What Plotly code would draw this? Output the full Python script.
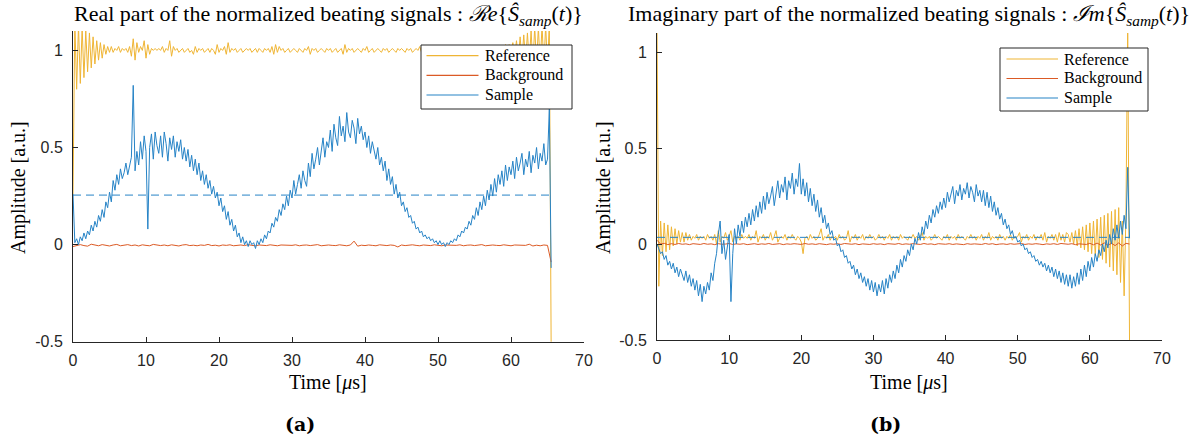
import numpy as np
import plotly.graph_objects as go

T_END = 65.5  # last sample time [us]

# ---------------- (a) real part ----------------
re_reference = [
    0.26, 1.15, 0.80, 1.13, 0.83, 1.12, 0.86, 1.10, 0.89, 1.09, 0.91, 1.07, 0.93, 1.05, 0.95, 1.04, 0.96, 1.03, 0.98, 1.02,
    0.99, 1.02, 0.99, 1.01, 1.00, 1.02, 0.99, 1.01, 1.00, 1.01, 0.99, 1.02, 0.97, 1.06, 0.95, 1.04, 0.99, 1.02, 1.00, 1.05,
    0.96, 1.03, 0.98, 1.01, 1.00, 1.01, 1.00, 1.01, 1.00, 1.02, 0.99, 1.01, 1.00, 1.05, 0.97, 1.02, 1.00, 1.01, 0.99, 1.00,
    1.01, 0.99, 1.00, 1.01, 0.99, 1.00, 0.98, 1.02, 0.99, 1.01, 1.00, 1.01, 0.99, 1.00, 1.01, 0.99, 1.01, 1.00, 0.98, 1.03,
    0.99, 1.01, 1.00, 1.02, 0.98, 1.04, 0.99, 1.01, 1.00, 1.01, 0.99, 1.00, 1.01, 0.99, 1.00, 1.01, 1.00, 1.01, 0.99, 1.00,
    1.01, 0.99, 1.01, 1.00, 0.99, 1.01, 1.00, 1.01, 0.99, 1.02, 0.98, 1.03, 0.99, 1.02, 1.00, 1.01, 0.99, 1.00, 1.01, 0.99,
    1.00, 1.01, 1.00, 0.99, 1.01, 1.00, 0.99, 1.01, 1.00, 1.02, 0.98, 1.01, 1.00, 1.01, 0.99, 1.00, 1.01, 1.00, 0.99, 1.01,
    1.00, 1.01, 0.99, 1.00, 1.01, 0.99, 1.00, 1.01, 0.98, 1.03, 0.99, 1.01, 1.00, 1.01, 0.99, 1.00, 1.01, 1.00, 0.99, 1.01,
    1.00, 1.02, 0.99, 1.00, 1.01, 0.99, 1.00, 1.01, 1.00, 0.99, 1.01, 1.00, 1.01, 0.99, 1.00, 1.01, 1.00, 0.99, 1.01, 1.00,
    1.01, 1.00, 0.99, 1.01, 1.00, 1.01, 0.99, 1.00, 1.01, 1.00, 1.02, 0.99, 1.01, 1.00, 0.99, 1.01, 1.00, 1.01, 0.99, 1.00,
    1.01, 1.00, 0.99, 1.01, 1.00, 1.01, 0.99, 1.00, 1.01, 1.00, 0.99, 1.01, 1.00, 1.01, 0.99, 1.02, 1.00, 1.01, 0.99, 1.00,
    1.01, 1.00, 0.99, 1.01, 1.00, 1.01, 0.99, 1.00, 1.01, 1.00, 0.99, 1.01, 1.00, 1.02, 0.98, 1.02, 0.99, 1.03, 0.98, 1.03,
    0.98, 1.04, 0.97, 1.05, 0.96, 1.07, 0.95, 1.08, 0.94, 1.09, 0.94, 1.10, 0.93, 1.12, 0.93, 1.12, 0.92, 1.13, 0.92, 1.13,
    0.91, 1.14, -0.52,
]

re_background = [
    -0.010, -0.005, 0.000, -0.005, -0.008, 0.002, -0.004, -0.006, 0.000, -0.003, -0.007, -0.002, 0.001, -0.006, -0.004, 0.000,
    -0.005, -0.002, -0.007, -0.001, -0.004, -0.006, 0.001, -0.003, -0.005, -0.002, -0.006, -0.001, -0.004, -0.007, -0.002, 0.000,
    -0.005, -0.003, -0.006, -0.002, -0.004, 0.001, -0.005, -0.003, -0.007, -0.002, -0.004, -0.001, -0.006, -0.003, -0.002, -0.005,
    0.000, -0.004, -0.006, -0.002, -0.003, -0.005, -0.001, -0.004, -0.006, -0.002, -0.003, -0.005, -0.004, -0.001, -0.006, -0.003,
    -0.002, -0.005, -0.004, 0.000, -0.006, -0.003, -0.002, -0.004, -0.005, -0.001, -0.004, -0.006, -0.002, 0.018, -0.008, -0.003,
    -0.005, -0.002, -0.004, -0.006, -0.001, -0.003, -0.005, -0.002, -0.004, -0.012, -0.002, -0.005, -0.003, -0.001, -0.004, -0.006,
    -0.002, -0.003, -0.005, -0.001, -0.004, -0.006, -0.002, -0.003, -0.005, -0.004, -0.001, -0.006, -0.003, -0.002, -0.005, -0.004,
    0.000, -0.006, -0.003, -0.002, -0.004, -0.005, -0.001, -0.004, -0.006, -0.002, -0.003, -0.005, -0.004, 0.002, -0.007, -0.003,
    -0.006, -0.002, -0.004, -0.090,
]

re_sample = [
    0.26, 0.01, 0.03, 0.00, 0.04, 0.02, 0.06, 0.03, 0.07, 0.05, 0.10, 0.07, 0.12, 0.09, 0.15, 0.12, 0.18, 0.14, 0.22, 0.19,
    0.27, 0.22, 0.33, 0.28, 0.36, 0.31, 0.39, 0.34, 0.37, 0.42, 0.36, 0.40, 0.45, 0.82, 0.38, 0.48, 0.41, 0.53, 0.44, 0.56,
    0.48, 0.08, 0.50, 0.57, 0.44, 0.58, 0.51, 0.47, 0.56, 0.45, 0.58, 0.52, 0.43, 0.55, 0.49, 0.56, 0.45, 0.53, 0.48, 0.54,
    0.44, 0.50, 0.43, 0.49, 0.40, 0.46, 0.38, 0.44, 0.36, 0.42, 0.33, 0.38, 0.31, 0.36, 0.29, 0.33, 0.26, 0.30, 0.24, 0.27,
    0.20, 0.24, 0.17, 0.20, 0.13, 0.17, 0.10, 0.13, 0.07, 0.10, 0.04, 0.06, 0.01, 0.04, 0.00, 0.02, -0.01, 0.02, 0.00, 0.01,
    -0.02, 0.02, 0.00, 0.03, 0.01, 0.05, 0.03, 0.07, 0.06, 0.11, 0.09, 0.14, 0.12, 0.18, 0.15, 0.21, 0.18, 0.25, 0.20, 0.28,
    0.24, 0.33, 0.26, 0.31, 0.36, 0.29, 0.38, 0.33, 0.30, 0.42, 0.35, 0.47, 0.39, 0.44, 0.50, 0.41, 0.48, 0.55, 0.45, 0.53,
    0.50, 0.59, 0.48, 0.62, 0.55, 0.51, 0.66, 0.56, 0.61, 0.53, 0.68, 0.58, 0.55, 0.64, 0.60, 0.52, 0.65, 0.57, 0.61, 0.54,
    0.58, 0.50, 0.56, 0.47, 0.53, 0.49, 0.44, 0.50, 0.41, 0.45, 0.38, 0.43, 0.33, 0.39, 0.31, 0.35, 0.26, 0.31, 0.24, 0.27,
    0.20, 0.22, 0.17, 0.19, 0.14, 0.15, 0.11, 0.12, 0.08, 0.09, 0.06, 0.07, 0.04, 0.05, 0.03, 0.04, 0.02, 0.03, 0.01, 0.02,
    0.00, 0.02, 0.00, 0.01, -0.01, 0.01, 0.00, 0.02, 0.01, 0.03, 0.02, 0.05, 0.04, 0.07, 0.06, 0.09, 0.08, 0.12, 0.10, 0.15,
    0.13, 0.19, 0.15, 0.22, 0.18, 0.25, 0.20, 0.28, 0.23, 0.31, 0.25, 0.34, 0.27, 0.36, 0.31, 0.38, 0.30, 0.41, 0.33, 0.40,
    0.36, 0.43, 0.34, 0.45, 0.38, 0.42, 0.47, 0.36, 0.44, 0.40, 0.48, 0.37, 0.46, 0.42, 0.50, 0.39, 0.47, 0.43, 0.52, 0.41,
    0.44, 0.70, -0.12,
]
re_sample_mean = 0.255

# ---------------- (b) imaginary part ----------------
im_reference = [
    1.15, -0.22, 0.12, -0.06, 0.11, -0.04, 0.10, -0.03, 0.09, -0.01, 0.08, 0.00, 0.07, 0.01, 0.06, 0.01, 0.06, 0.02, 0.05, 0.02,
    0.04, 0.03, 0.05, 0.02, 0.04, 0.03, 0.04, 0.02, 0.05, 0.03, 0.04, 0.02, 0.05, 0.00, 0.07, 0.01, 0.04, 0.03, 0.06, 0.02,
    0.04, 0.07, 0.01, 0.04, 0.03, 0.04, 0.02, 0.05, 0.03, 0.04,
    0.03, 0.05, 0.02, 0.04, 0.03, 0.07, 0.01, 0.04, 0.03, 0.05,
    0.02, 0.04, 0.03, 0.06, 0.02, 0.04, 0.07, 0.01, 0.03, 0.04,
    0.03, 0.05, 0.02, 0.04, 0.03, 0.05, 0.03, 0.02, 0.04, 0.03,
    0.01, -0.05, 0.03, 0.04, 0.02, 0.05, 0.03, 0.04, 0.02, 0.03,
    0.05, 0.08, 0.02, 0.04, 0.03, 0.05, 0.02, 0.04, 0.03, 0.04,
    0.02, 0.05, 0.03, 0.04, 0.02, 0.03, 0.07, 0.01, 0.04, 0.03,
    0.05, 0.02, 0.04, 0.03, 0.05, 0.02, 0.04, 0.03, 0.05, 0.03,
    0.04, 0.02, 0.03, 0.05, 0.03, 0.04, 0.02, 0.04, 0.03, 0.05,
    0.02, 0.04, 0.03, 0.04, 0.02, 0.05, 0.03, 0.04, 0.03, 0.02,
    0.04, 0.03, 0.05, 0.03, 0.04, 0.02, 0.04, 0.06, 0.02, 0.04,
    0.03, 0.04, 0.02, 0.03, 0.05, 0.03, 0.04, 0.03, 0.02, 0.04,
    0.03, 0.05, 0.02, 0.04, 0.03, 0.04, 0.02, 0.05, 0.03, 0.04,
    0.03, 0.02, 0.04, 0.03, 0.05, 0.03, 0.04, 0.02, 0.04, 0.03,
    0.05, 0.02, 0.04, 0.03, 0.06, 0.02, 0.04, 0.03, 0.04, 0.02,
    0.05, 0.03, 0.04, 0.02, 0.04, 0.03, 0.05, 0.02, 0.04, 0.03,
    0.04, 0.06, 0.01, 0.04, 0.03, 0.05, 0.02, 0.04, 0.03, 0.05,
    0.02, 0.04, 0.03, 0.05, 0.02, 0.06, 0.01, 0.04, 0.03, 0.05,
    0.02, 0.05, 0.01, 0.06, 0.02, 0.05, 0.01, 0.06,
    0.05, 0.01, 0.06, 0.00, 0.07, -0.01, 0.08, -0.02, 0.09, -0.03, 0.10, -0.04, 0.11, -0.05, 0.12, -0.06, 0.13, -0.07, 0.14, -0.08,
    0.15, -0.10, 0.16, -0.12, 0.17, -0.14, 0.18, -0.16, 0.19, -0.20, 0.12, -0.27, 0.15, 1.15, -0.52,
]

im_background = [
    0.020, 0.000, 0.004, -0.003, 0.002, -0.002, 0.003, -0.001, 0.001, -0.003, 0.002, 0.000, -0.002, 0.003, -0.001, 0.001,
    -0.003, 0.002, -0.001, 0.000, 0.003, -0.002, 0.001, -0.001, 0.002, -0.003, 0.000, 0.002, -0.002, 0.001, -0.001, 0.003,
    -0.002, 0.000, 0.002, -0.003, 0.001, -0.001, 0.002, 0.000, -0.002, 0.003, -0.001, 0.001, -0.002, 0.002, 0.000, -0.003,
    0.001, -0.001, 0.002, -0.002, 0.003, 0.000, -0.001, 0.002, -0.003, 0.001, 0.000, -0.002, 0.002, -0.001, 0.001, -0.003,
    0.002, 0.000, -0.001, 0.003, -0.002, 0.001, -0.001, 0.002, 0.000, -0.002, 0.003, -0.001, 0.001, -0.003, 0.002, 0.000,
    -0.001, 0.002, -0.002, 0.001, 0.000, -0.003, 0.002, -0.001, 0.001, 0.000, -0.002, 0.003, -0.001, 0.002, -0.003, 0.000,
    0.001, -0.002, 0.002, -0.001, 0.000, 0.003, -0.002, 0.001, -0.001, 0.002, 0.000, -0.003, 0.001, -0.001, 0.002, -0.002,
    0.003, 0.000, -0.001, 0.002, -0.003, 0.001, 0.000, -0.002, 0.004, -0.004, 0.005, -0.005, 0.006, -0.006, 0.004, -0.008,
    0.006, -0.010, 0.004, 0.000,
]

im_sample = [
    0.00, -0.03, -0.05, -0.04, -0.08, -0.06, -0.11, -0.09, -0.13, -0.10, -0.15, -0.12, -0.17, -0.13, -0.16, -0.19, -0.14, -0.20, -0.16, -0.22,
    -0.18, -0.24, -0.19, -0.27, -0.21, -0.30, -0.22, -0.26, -0.20, -0.24, -0.15, -0.19, -0.10, -0.05, 0.05, 0.12, -0.05, 0.02, -0.08, -0.02,
    0.05, -0.30, -0.05, 0.08, 0.00, 0.10, 0.04, 0.12, 0.06, 0.14, 0.09, 0.16, 0.10, 0.18, 0.12, 0.20, 0.14, 0.22, 0.16, 0.25,
    0.18, 0.27, 0.21, 0.25, 0.30, 0.20, 0.28, 0.33, 0.24, 0.31, 0.27, 0.35, 0.23, 0.33, 0.29, 0.37, 0.26, 0.34, 0.30, 0.42,
    0.26, 0.34, 0.25, 0.32, 0.22, 0.29, 0.20, 0.26, 0.17, 0.23, 0.14, 0.19, 0.11, 0.15, 0.08, 0.11, 0.05, 0.07, 0.02, 0.03,
    -0.01, 0.00, -0.04, -0.03, -0.07, -0.06, -0.10, -0.09, -0.13, -0.11, -0.16, -0.13, -0.18, -0.15, -0.20, -0.17, -0.22, -0.18, -0.24, -0.19,
    -0.25, -0.20, -0.27, -0.21, -0.25, -0.19, -0.26, -0.18, -0.23, -0.16, -0.20, -0.14, -0.18, -0.11, -0.15, -0.08, -0.12, -0.06, -0.09, -0.03,
    -0.06, 0.00, -0.03, 0.03, 0.00, 0.06, 0.02, 0.09, 0.05, 0.12, 0.08, 0.15, 0.11, 0.18, 0.14, 0.20, 0.16, 0.22, 0.18, 0.24,
    0.19, 0.27, 0.22, 0.26, 0.30, 0.21, 0.28, 0.25, 0.31, 0.23, 0.29, 0.26, 0.32, 0.24, 0.30, 0.27, 0.22, 0.31, 0.25, 0.28,
    0.22, 0.28, 0.20, 0.27, 0.19, 0.25, 0.17, 0.22, 0.15, 0.19, 0.13, 0.16, 0.10, 0.13, 0.08, 0.10, 0.05, 0.07, 0.03, 0.04,
    0.01, 0.02, -0.01, 0.00, -0.03, -0.02, -0.05, -0.04, -0.07, -0.06, -0.09, -0.08, -0.11, -0.09, -0.12, -0.10, -0.14, -0.11, -0.15, -0.12,
    -0.17, -0.13, -0.18, -0.14, -0.20, -0.15, -0.21, -0.16, -0.22, -0.16, -0.23, -0.17, -0.22, -0.15, -0.21, -0.13, -0.19, -0.11, -0.17, -0.09,
    -0.14, -0.07, -0.12, -0.05, -0.09, -0.03, -0.06, 0.00, -0.04, 0.02, -0.02, 0.05, 0.00, 0.08, 0.02, 0.10, 0.03, 0.12, 0.05, 0.15,
    0.08, 0.40, 0.03,
]
im_sample_mean = 0.035

series_names = ["Reference", "Background", "Sample"]
x_tick_values = [0, 10, 20, 30, 40, 50, 60, 70]
y_tick_values = [-0.5, 0, 0.5, 1]
y_tick_labels = ["-0.5", "0", "0.5", "1"]

COL_REF = "#EFB535"
COL_BG = "#DB5A25"
COL_SMP = "#2683C6"
AX_COL = "#262626"
SERIF = "Liberation Serif"
SANS = "Liberation Sans"
W, H = 1196, 441


def px(x):
    return x / W


def py(y):
    return 1 - y / H


def tgrid(vals):
    return np.linspace(0, T_END, len(vals))


fig = go.Figure()

panels = [
    ("x", "y", re_reference, re_background, re_sample, re_sample_mean),
    ("x2", "y2", im_reference, im_background, im_sample, im_sample_mean),
]
colors = [COL_REF, COL_BG, COL_SMP]
for xa, ya, ref, bg, smp, mean in panels:
    for name, vals, col in zip(series_names, [ref, bg, smp], colors):
        fig.add_trace(go.Scatter(x=tgrid(vals), y=vals, mode="lines", name=name, showlegend=False,
                                 line=dict(color=col, width=1), xaxis=xa, yaxis=ya))
    t = tgrid(smp)
    fig.add_trace(go.Scatter(x=[t[0], t[-1]], y=[mean, mean], mode="lines", showlegend=False,
                             line=dict(color=COL_SMP, width=1, dash="8px,5px"), xaxis=xa, yaxis=ya))

common_x = dict(range=[0, 70], tickvals=x_tick_values, ticks="inside", ticklen=5, tickcolor=AX_COL,
                showline=True, linecolor=AX_COL, linewidth=1, showgrid=False, zeroline=False, automargin=False,
                tickfont=dict(family=SANS, size=16, color=AX_COL), ticklabelstandoff=4)
common_y = dict(range=[-0.5, 1.1], tickvals=y_tick_values, ticktext=y_tick_labels, ticks="inside", ticklen=5,
                tickcolor=AX_COL, showline=True, linecolor=AX_COL, linewidth=1, showgrid=False, zeroline=False,
                automargin=False, tickfont=dict(family=SANS, size=16, color=AX_COL), ticklabelstandoff=6)

fig.update_layout(
    template="none",
    width=W, height=H, margin=dict(l=0, r=0, t=0, b=0, autoexpand=False),
    plot_bgcolor="white", paper_bgcolor="white",
    xaxis=dict(domain=[px(73), px(584)], anchor="y", **common_x),
    yaxis=dict(domain=[py(341.7), py(31)], anchor="x", **common_y),
    xaxis2=dict(domain=[px(657), px(1162)], anchor="y2", **common_x),
    yaxis2=dict(domain=[py(340), py(33)], anchor="x2", **common_y),
    showlegend=False,
)

# ---- legend boxes (drawn in paper space) ----
shapes = []
annotations = []
legend_boxes = [
    # box left, right, top, bottom, line start, line end, text start, row centres (px)
    (421, 572, 45, 109, 426.5, 478.5, 483, [55.7, 75.3, 95.0]),
    (1000, 1148, 48, 111, 1006.5, 1058, 1062, [59.0, 78.5, 98.0]),
]
for bl, br, bt, bb, ls, le, tx, rows in legend_boxes:
    shapes.append(dict(type="rect", xref="paper", yref="paper", x0=px(bl), x1=px(br), y0=py(bb), y1=py(bt),
                       line=dict(color=AX_COL, width=1), fillcolor="white", layer="above"))
    for name, col, ry in zip(series_names, colors, rows):
        shapes.append(dict(type="line", xref="paper", yref="paper", x0=px(ls), x1=px(le), y0=py(ry), y1=py(ry),
                           line=dict(color=col, width=1.2), layer="above"))
        annotations.append(dict(text=name, x=px(tx), y=py(ry), xanchor="left", yanchor="middle",
                                font=dict(family=SERIF, size=16, color="black")))

title_font = dict(family=SERIF, size=22, color="black")
label_font = dict(family=SERIF, size=20, color="black")
annotations += [
    dict(text="Real part of the normalized beating signals : <i>ℛe</i>{<i>Ŝ</i><sub><i>samp</i></sub>(<i>t</i>)}",
         x=px(328), y=py(15), font=title_font),
    dict(text="Imaginary part of the normalized beating signals : <i>ℐm</i>{<i>Ŝ</i><sub><i>samp</i></sub>(<i>t</i>)}",
         x=px(909), y=py(15), font=title_font),
    dict(text="Amplitude [a.u.]", x=px(18), y=py(188), textangle=-90, font=label_font),
    dict(text="Amplitude [a.u.]", x=px(603), y=py(188), textangle=-90, font=label_font),
    dict(text="Time [<i>μ</i>s]", x=px(328), y=py(382), font=label_font),
    dict(text="Time [<i>μ</i>s]", x=px(909), y=py(382), font=label_font),
    dict(text="<b>(a)</b>", x=px(300), y=py(424), font=dict(family="DejaVu Serif", size=19, color="black")),
    dict(text="<b>(b)</b>", x=px(886), y=py(424), font=dict(family="DejaVu Serif", size=19, color="black")),
]
for a in annotations:
    a.setdefault("xanchor", "center")
    a.setdefault("yanchor", "middle")
    a.update(xref="paper", yref="paper", showarrow=False)
fig.update_layout(shapes=shapes, annotations=annotations)

# remove the browser's default page margin so the figure sits at the window origin
fig.write_html("out.html", config={"displayModeBar": False},
               post_script="document.body.style.margin='0';document.body.style.overflow='hidden';")
